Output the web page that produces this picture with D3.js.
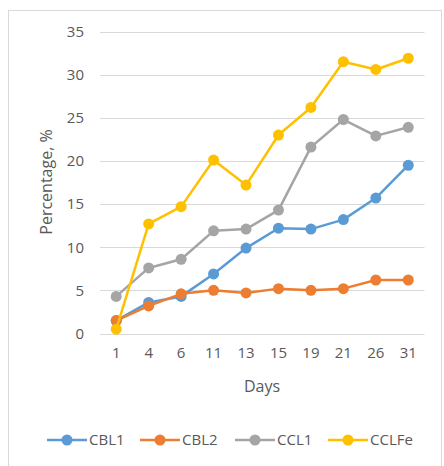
<!DOCTYPE html>
<html><head><meta charset="utf-8">
<script src="https://cdn.jsdelivr.net/npm/d3@7/dist/d3.min.js"></script>
<style>
html,body{margin:0;padding:0;background:#fff;}
svg{display:block;font-family:"Open Sans",sans-serif;}
</style></head>
<body><svg id="c" width="444" height="466"></svg>
<script>
const days = ["1","4","6","11","13","15","19","21","26","31"];
const seriesNames = ["CBL1","CBL2","CCL1","CCLFe"];
const cbl1 = [1.5,3.6,4.3,6.9,9.9,12.2,12.1,13.2,15.7,19.5];
const cbl2 = [1.5,3.2,4.6,5.0,4.7,5.2,5.0,5.2,6.2,6.2];
const ccl1 = [4.3,7.6,8.6,11.9,12.1,14.3,21.6,24.8,22.9,23.9];
const cclfe = [0.5,12.7,14.7,20.1,17.2,23.0,26.2,31.5,30.6,31.9];
const colors = ["#5B9BD5","#ED7D31","#A5A5A5","#FFC000"];
const yTicks = [0,5,10,15,20,25,30,35];

const svg = d3.select("#c");
const textColor = "#595959";
const fs = 15;

// chart border
svg.append("rect").attr("x",8.5).attr("y",10.5).attr("width",433).attr("height",470)
  .attr("fill","#fff").attr("stroke","#D9D9D9").attr("stroke-width",1);

const x = d3.scaleBand().domain(days).range([100,424.5]);
const y = d3.scaleLinear().domain([0,35]).range([333.5,31.5]);

// gridlines
svg.append("g").selectAll("line").data(yTicks).join("line")
  .attr("x1",100).attr("x2",424.5)
  .attr("y1",d=>Math.round(y(d))+0.5).attr("y2",d=>Math.round(y(d))+0.5)
  .attr("stroke","#D9D9D9").attr("stroke-width",1);

// y axis labels
const yAxis = d3.axisLeft(y).tickValues(yTicks).tickSize(0).tickPadding(16);
const gy = svg.append("g").attr("transform","translate(100,0)").call(yAxis);
gy.select(".domain").remove();
gy.selectAll("text").attr("fill",textColor).style("font-size",fs+"px").style("font-family","'Open Sans',sans-serif");

// x axis labels
const xAxis = d3.axisBottom(x).tickSize(0).tickPadding(14);
const gx = svg.append("g").attr("transform","translate(0,333.5)").call(xAxis);
gx.select(".domain").remove();
gx.selectAll("text").attr("fill",textColor).style("font-size",fs+"px").style("font-family","'Open Sans',sans-serif");

// axis titles
svg.append("text").attr("x",262).attr("y",392).attr("text-anchor","middle")
  .attr("fill",textColor).style("font-size","16px").text("Days");
svg.append("text").attr("transform","translate(52,182) rotate(-90)").attr("text-anchor","middle")
  .attr("fill",textColor).style("font-size","16px").text("Percentage, %");

// series
const data = [cbl1,cbl2,ccl1,cclfe];
const line = d3.line().x((d,i)=>x(days[i])+x.bandwidth()/2).y(d=>y(d));
data.forEach((vals,k)=>{
  const g = svg.append("g");
  g.append("path").datum(vals).attr("d",line).attr("fill","none")
    .attr("stroke",colors[k]).attr("stroke-width",2.5).attr("stroke-linejoin","round");
  g.selectAll("circle").data(vals).join("circle")
    .attr("cx",(d,i)=>x(days[i])+x.bandwidth()/2).attr("cy",d=>y(d)).attr("r",5.5)
    .attr("fill",colors[k]);
});

// legend
const legX = [47,140,235,328];
const lg = svg.append("g");
seriesNames.forEach((n,k)=>{
  const g = lg.append("g").attr("transform",`translate(${legX[k]},440)`);
  g.append("line").attr("x1",0).attr("x2",40).attr("y1",0).attr("y2",0)
    .attr("stroke",colors[k]).attr("stroke-width",2.5);
  g.append("circle").attr("cx",20).attr("cy",0).attr("r",5.5).attr("fill",colors[k]);
  g.append("text").attr("x",42).attr("y",0).attr("dy","0.35em").attr("fill",textColor)
    .style("font-size",fs+"px").text(n);
});
</script></body></html>
